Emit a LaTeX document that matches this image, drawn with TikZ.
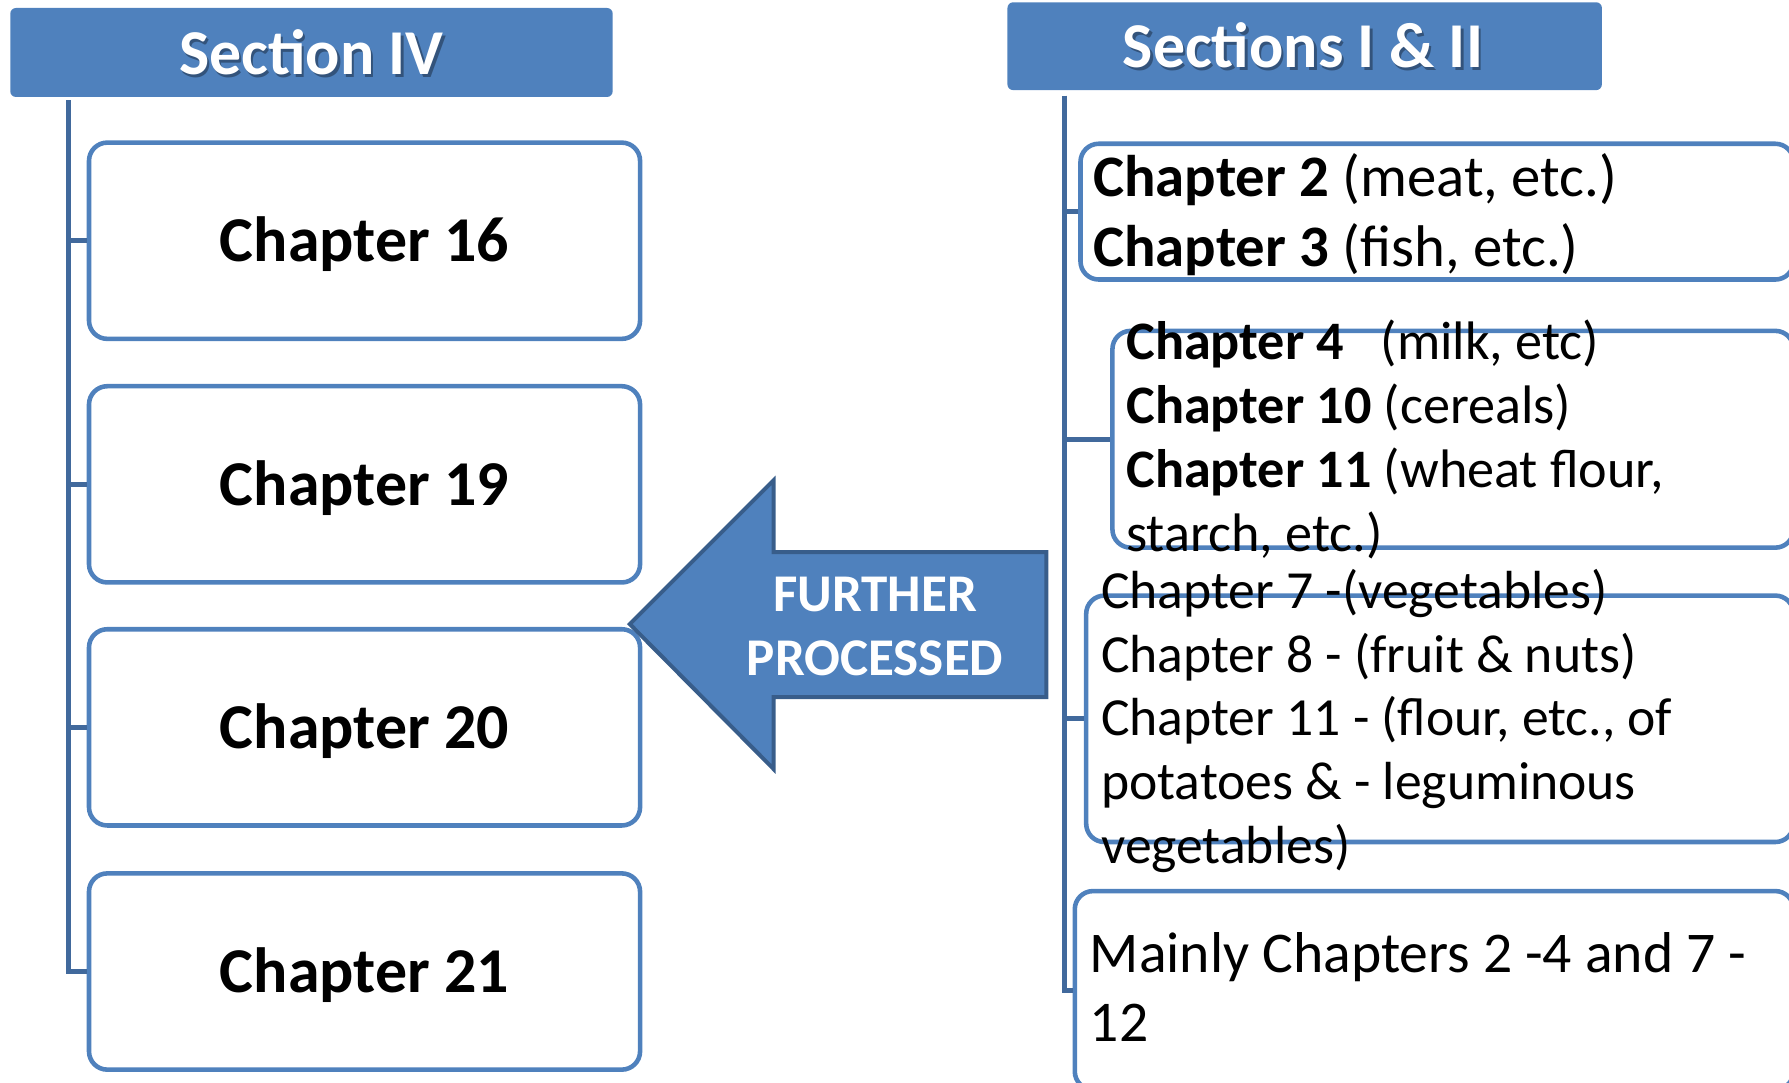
\documentclass[tikz,border=0pt]{standalone}
\usepackage{fontspec}
\setmainfont{Carlito}
\definecolor{hblue}{HTML}{4F81BD}
\definecolor{lblue}{HTML}{41699C}
\definecolor{ablue}{HTML}{385D8A}
\newcommand\fsz[1]{\fontsize{#1}{#1}\selectfont}
\begin{document}
\begin{tikzpicture}[x=1pt,y=-1pt,
  hdr/.style={fill=hblue, rounded corners=5pt, inner sep=0},
  cbox/.style={draw=hblue, line width=4pt, rounded corners=16pt, fill=white, inner sep=0},
  trunk/.style={draw=lblue, line width=4.5pt},
  htxt/.style={inner sep=0, anchor=base, text=white, font=\fsz{56}\bfseries},
  hshadow/.style={inner sep=0, anchor=base, text=black, opacity=0.35, font=\fsz{56}\bfseries},
  bigtxt/.style={inner sep=0, anchor=base, font=\fsz{56}\bfseries},
  rtxt/.style={inner sep=0, anchor=base west},
  arr/.style={fill=hblue, draw=ablue, line width=3.5pt},
  atxt/.style={inner sep=0, anchor=base, text=white, font=\fsz{46.5}\bfseries}
]
\useasboundingbox (0,0) rectangle (1568,949);
\clip (0,0) rectangle (1568,949);

% headers
\node[hdr, minimum width=528pt, minimum height=78pt] (h4) at (273,46) {};
\node[hshadow] at (275,67.5) {Section IV};
\node[htxt] (h4t) at (273,65.5) {Section IV};
\node[hdr, minimum width=521pt, minimum height=77pt] (h12) at (1143.5,40.5) {};
\node[hshadow] at (1144,61.5) {Sections I \& II};
\node[htxt] (h12t) at (1142,59.5) {Sections I \& II};

% left boxes
\coordinate (ltop) at (60,88);
\node[cbox, minimum width=483pt, minimum height=172pt] (c16) at (319.5,211) {};
\node[cbox, minimum width=483pt, minimum height=172pt] (c19) at (319.5,424.5) {};
\node[cbox, minimum width=483pt, minimum height=172pt] (c20) at (319.5,637.5) {};
\node[cbox, minimum width=483pt, minimum height=172pt] (c21) at (319.5,851.5) {};
\draw[trunk] (ltop) |- (c16.west);
\draw[trunk] (ltop) |- (c19.west);
\draw[trunk] (ltop) |- (c20.west);
\draw[trunk] (ltop) |- (c21.west);
\node[bigtxt] (t16) at (319.5,229.5) {Chapter 16};
\node[bigtxt] (t19) at (319.5,443) {Chapter 19};
\node[bigtxt] (t20) at (319.5,656) {Chapter 20};
\node[bigtxt] (t21) at (319.5,870) {Chapter 21};

% right boxes
\coordinate (rtop) at (933,84);
\node[cbox, minimum width=625pt, minimum height=119pt] (b1) at (1259.5,185.5) {};
\node[cbox, minimum width=597pt, minimum height=190pt] (b2) at (1273.5,385) {};
\node[cbox, minimum width=620pt, minimum height=216pt] (b3) at (1262,630) {};
\node[cbox, minimum width=630pt, minimum height=174pt] (b4) at (1257,868) {};
\draw[trunk] (rtop) |- (b1.west);
\draw[trunk] (rtop) |- (b2.west);
\draw[trunk] (rtop) |- (b3.west);
\draw[trunk] (rtop) |- (b4.west);

\node[rtxt, font=\fsz{51.5}] (r1a) at (958,172) {\textbf{Chapter 2} (meat, etc.)};
\node[rtxt, font=\fsz{51.5}] (r1b) at (958,234) {\textbf{Chapter 3} (fish, etc.)};

\node[rtxt, font=\fsz{47.5}] (r2a) at (987,315) {\textbf{Chapter 4}\hspace{32pt}(milk, etc)};
\node[rtxt, font=\fsz{47.5}] (r2b) at (987,371) {\textbf{Chapter 10} (cereals)};
\node[rtxt, font=\fsz{47.5}] (r2c) at (987,427) {\textbf{Chapter 11} (wheat flour,};
\node[rtxt, font=\fsz{47.5}] (r2d) at (987,483) {starch, etc.)};

\node[rtxt, font=\fsz{47}] (r3a) at (965,533) {Chapter 7 -(vegetables)};
\node[rtxt, font=\fsz{47}] (r3b) at (965,589) {Chapter 8 - (fruit \& nuts)};
\node[rtxt, font=\fsz{47}] (r3c) at (965,645) {Chapter 11 - (flour, etc., of};
\node[rtxt, font=\fsz{47}] (r3d) at (965,701) {potatoes \& - leguminous};
\node[rtxt, font=\fsz{47}] (r3e) at (965,757) {vegetables)};

\node[rtxt, font=\fsz{50.5}] (r4a) at (955,852) {Mainly Chapters 2 -4 and 7 -};
\node[rtxt, font=\fsz{50.5}] (r4b) at (955,913) {12};

% arrow
\draw[arr] (917,484) -- (678,484) -- (678,421) -- (552,547) -- (678,674) -- (678,611) -- (917,611) -- cycle;
\node[atxt] (fa) at (767,536) {FURTHER};
\node[atxt] (fb) at (767,592) {PROCESSED};
\end{tikzpicture}
\end{document}
